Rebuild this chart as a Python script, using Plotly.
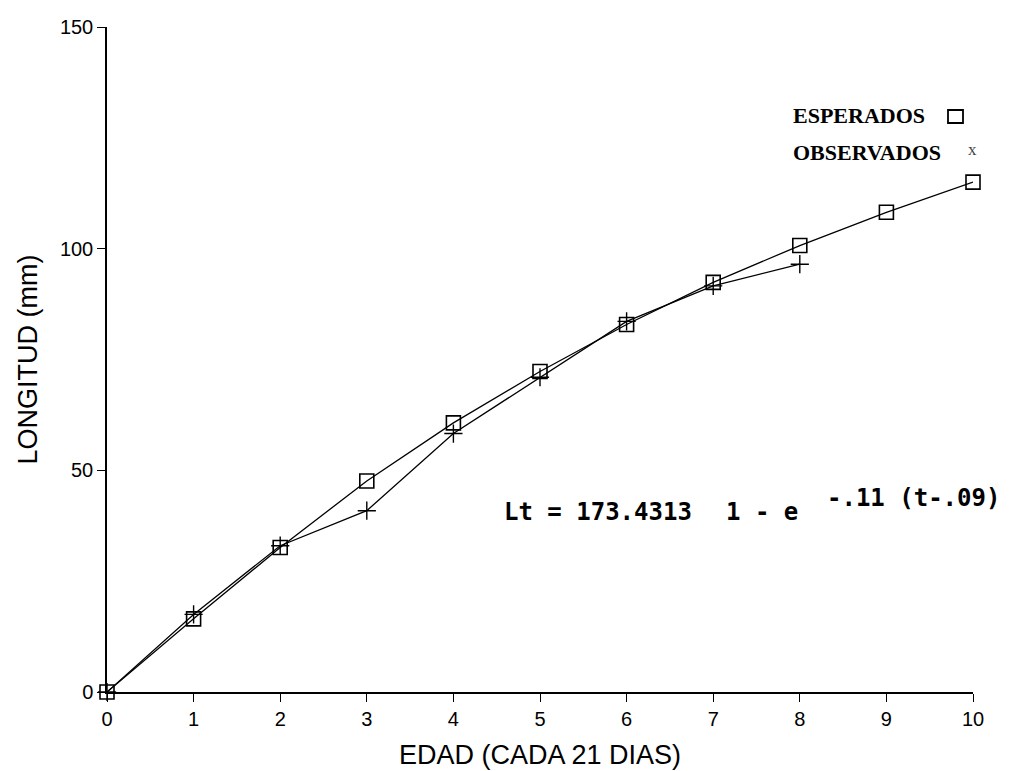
import plotly.graph_objects as go

# Data
edad = [0, 1, 2, 3, 4, 5, 6, 7, 8, 9, 10]
esperados = [0, 16.5, 32.6, 47.6, 60.7, 72.3, 82.9, 92.4, 100.7, 108.2, 115.0]
edad_obs = [0, 1, 2, 3, 4, 5, 6, 7, 8]
observados = [0, 17.5, 33.0, 40.9, 58.3, 71.0, 83.6, 91.6, 96.5]

x_ticks = list(range(0, 11))
y_ticks = [0, 50, 100, 150]

W, H = 1019, 771
L, R, T, B = 107, 46, 27, 79
PW, PH = W - L - R, H - T - B


def px(x):
    return (x - L) / PW


def py(y):
    return (H - B - y) / PH


fig = go.Figure()
fig.add_trace(go.Scatter(
    x=edad, y=esperados, mode="lines+markers", name="ESPERADOS",
    line=dict(color="black", width=1.3),
    marker=dict(symbol="square-open", size=14, color="black", line=dict(width=1.6, color="black")),
    cliponaxis=False, showlegend=False,
))
fig.add_trace(go.Scatter(
    x=edad_obs, y=observados, mode="lines+markers", name="OBSERVADOS",
    line=dict(color="black", width=1.3),
    marker=dict(symbol="cross-thin", size=13, color="black", line=dict(width=1.4, color="black")),
    cliponaxis=False, showlegend=False,
))

sans = "Liberation Sans, Arial, sans-serif"
serif = "Liberation Serif, Times New Roman, serif"
mono_sans = "DejaVu Sans Mono, monospace"

fig.update_layout(
    width=W, height=H,
    margin=dict(l=L, r=R, t=T, b=B, pad=0, autoexpand=False),
    paper_bgcolor="white", plot_bgcolor="white",
    showlegend=False,
    xaxis=dict(
        range=[0, 10], tickvals=x_ticks, ticktext=[str(v) for v in x_ticks],
        showgrid=False, zeroline=False, showline=True, linecolor="black", linewidth=1.5,
        ticks="outside", ticklen=8, tickwidth=1.3, tickcolor="black", automargin=False,
        tickfont=dict(family=sans, size=20, color="black"),
        title=dict(text="EDAD (CADA 21 DIAS)", font=dict(family=sans, size=27, color="black"), standoff=16),
    ),
    yaxis=dict(
        range=[0, 150], tickvals=y_ticks, ticktext=[str(v) for v in y_ticks],
        showgrid=False, zeroline=False, showline=True, linecolor="black", linewidth=1.5,
        ticks="outside", ticklen=8, tickwidth=1.3, tickcolor="black", automargin=False,
        tickfont=dict(family=sans, size=20, color="black"),
        title=dict(text="LONGITUD (mm)", font=dict(family=sans, size=27, color="black"), standoff=14),
    ),
)

annotations = [
    dict(text="<b>ESPERADOS</b>", x=px(791), y=py(115), xanchor="left", yanchor="middle",
         font=dict(family=serif, size=22, color="black")),
    dict(text="<b>OBSERVADOS</b>", x=px(791), y=py(152), xanchor="left", yanchor="middle",
         font=dict(family=serif, size=22, color="black")),
    dict(text="x", x=px(972), y=py(150), xanchor="center", yanchor="middle",
         font=dict(family=serif, size=17, color="#444")),
    dict(text="<b>Lt = 173.4313</b>", x=px(502), y=py(512), xanchor="left", yanchor="middle",
         font=dict(family=mono_sans, size=24, color="black")),
    dict(text="<b>1 - e</b>", x=px(724), y=py(512), xanchor="left", yanchor="middle",
         font=dict(family=mono_sans, size=24, color="black")),
    dict(text="<b>-.11 (t-.09)</b>", x=px(825), y=py(498), xanchor="left", yanchor="middle",
         font=dict(family=mono_sans, size=24, color="black")),
]
for a in annotations:
    a.update(xref="paper", yref="paper", showarrow=False)
fig.update_layout(annotations=annotations)

fig.add_shape(type="rect", xref="paper", yref="paper",
              x0=px(948), x1=px(963), y0=py(123), y1=py(110),
              line=dict(color="black", width=1.8), fillcolor="rgba(0,0,0,0)")

fig.write_html("out.html")
